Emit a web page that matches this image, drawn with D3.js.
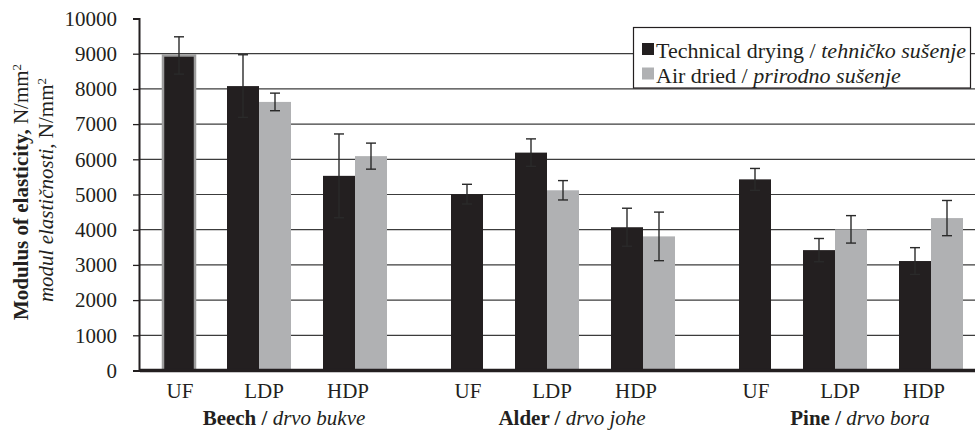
<!DOCTYPE html>
<html>
<head>
<meta charset="utf-8">
<script src="https://cdn.jsdelivr.net/npm/d3@7"></script>
<style>
  html, body { margin: 0; padding: 0; background: #fff; }
  svg { display: block; }
  svg text, svg tspan { font-family: "Liberation Serif", "Times New Roman", "DejaVu Serif", serif; }
</style>
</head>
<body>
<svg id="chart" width="975" height="432"></svg>
<script>
// Wood species (English / Serbian) and adhesive types
const species = ["Beech", "Alder", "Pine"];
const speciesLocal = ["drvo bukve", "drvo johe", "drvo bora"];
const adhesives = ["UF", "LDP", "HDP"];

// Modulus of elasticity, N/mm², in order Beech UF..HDP, Alder UF..HDP, Pine UF..HDP
const technicalDrying = [8950, 8080, 5530, 5010, 6190, 4070, 5430, 3420, 3110];
const technicalDryingErr = [530, 890, 1190, 280, 390, 540, 310, 330, 380];
const airDried = [null, 7630, 6090, null, 5120, 3810, null, 4010, 4330];
const airDriedErr = [null, 250, 370, null, 275, 690, null, 390, 500];

const yTicks = [0, 1000, 2000, 3000, 4000, 5000, 6000, 7000, 8000, 9000, 10000];

const FONT = "Liberation Serif, Times New Roman, DejaVu Serif, serif";
const BLACK = "#231f20";
const GREY = "#b0b1b3";

const svg = d3.select("#chart").attr("font-family", FONT);
const plot = { left: 140, right: 975, top: 18.5, bottom: 370.5 };

// one slot per species/adhesive pair
const keys = [];
species.forEach((s, g) => adhesives.forEach((a, j) => keys.push({ key: s + "-" + a, g, j })));

const x = d3.scaleBand().domain(keys.map(k => k.key)).range([115, 979]).padding(0);
const y = d3.scaleLinear().domain([0, 10000]).range([plot.bottom, plot.top]);
const barW = x.bandwidth() / 3;

// horizontal gridlines
svg.append("g")
  .selectAll("line")
  .data(yTicks.filter(t => t > 0 && t < 10000))
  .join("line")
  .attr("x1", plot.left).attr("x2", plot.right)
  .attr("y1", d => y(d)).attr("y2", d => y(d))
  .attr("stroke", "#3c3c3c").attr("stroke-width", 1.2);

// bar layout: technical drying left of slot centre, air dried right of it;
// where a slot has only one bar it sits in the right half
const bars = [];
keys.forEach((k, i) => {
  const c = x(k.key) + x.bandwidth() / 2;
  const hasAir = airDried[i] != null;
  bars.push({ i, v: technicalDrying[i], e: technicalDryingErr[i], x0: hasAir ? c - barW : c, fill: BLACK, outline: i === 0 });
  if (hasAir) bars.push({ i, v: airDried[i], e: airDriedErr[i], x0: c, fill: GREY, outline: false });
});

svg.append("g")
  .selectAll("rect")
  .data(bars)
  .join("rect")
  .attr("x", d => d.x0)
  .attr("width", barW)
  .attr("y", d => y(d.v))
  .attr("height", d => y(0) - y(d.v))
  .attr("fill", d => d.fill)
  .attr("stroke", d => d.outline ? "#9d9d9d" : "none")
  .attr("stroke-width", d => d.outline ? 2.5 : 0);

// error bars
const ge = svg.append("g").attr("stroke", "#2a2a2a").attr("stroke-width", 1.4);
bars.forEach(d => {
  const cx = d.x0 + barW / 2;
  const top = y(d.v + d.e), bot = y(d.v - d.e);
  ge.append("line").attr("x1", cx).attr("x2", cx).attr("y1", top).attr("y2", bot);
  ge.append("line").attr("x1", cx - 5).attr("x2", cx + 5).attr("y1", top).attr("y2", top);
  ge.append("line").attr("x1", cx - 5).attr("x2", cx + 5).attr("y1", bot).attr("y2", bot);
});

// baseline
svg.append("line")
  .attr("x1", plot.left).attr("x2", plot.right)
  .attr("y1", y(0)).attr("y2", y(0))
  .attr("stroke", BLACK).attr("stroke-width", 3.5);

// y axis
const yAxis = d3.axisLeft(y).tickValues(yTicks).tickSize(6).tickPadding(16).tickFormat(d3.format("d"));
const gy = svg.append("g").attr("transform", `translate(${plot.left - 1},0)`).call(yAxis)
  .attr("font-family", FONT).attr("font-size", 21);
gy.select(".domain").attr("stroke", BLACK).attr("stroke-width", 2);
gy.selectAll(".tick line").attr("stroke", BLACK).attr("stroke-width", 1.3);
gy.selectAll(".tick text").attr("fill", BLACK).attr("font-family", FONT);

// category labels under the bars
const labels = svg.append("g").attr("fill", BLACK).attr("font-size", 21).attr("text-anchor", "middle");
species.forEach((s, g) => {
  const gx = x(s + "-UF");
  const lx = d3.scalePoint().domain(adhesives).range([gx + 65, gx + 233]);
  adhesives.forEach(a => {
    labels.append("text").attr("font-family", FONT).attr("x", lx(a)).attr("y", 398).text(a);
  });
  const t = labels.append("text").attr("font-family", FONT).attr("x", lx("LDP") + 20).attr("y", 425);
  t.append("tspan").attr("font-family", FONT).attr("font-weight", "bold").text(s + " /");
  t.append("tspan").attr("font-family", FONT).attr("font-style", "italic").text(" " + speciesLocal[g]);
});

// y axis title
const yt = svg.append("g").attr("fill", BLACK).attr("font-size", 21).attr("text-anchor", "middle");
const t1 = yt.append("text").attr("font-family", FONT).attr("transform", "translate(28,192) rotate(-90)");
t1.append("tspan").attr("font-family", FONT).attr("font-weight", "bold").text("Modulus of elasticity,");
t1.append("tspan").attr("font-family", FONT).text(" N/mm");
t1.append("tspan").attr("font-family", FONT).attr("dy", -7).attr("font-size", 13).text("2");
const t2 = yt.append("text").attr("font-family", FONT).attr("transform", "translate(53,190) rotate(-90)");
t2.append("tspan").attr("font-family", FONT).attr("font-style", "italic").text("modul elastičnosti,");
t2.append("tspan").attr("font-family", FONT).text(" N/mm");
t2.append("tspan").attr("font-family", FONT).attr("dy", -7).attr("font-size", 13).text("2");

// legend
const lg = svg.append("g");
lg.append("rect").attr("x", 633.5).attr("y", 27.5).attr("width", 337).attr("height", 60.5)
  .attr("fill", "#fff").attr("stroke", BLACK).attr("stroke-width", 1.2);
const legendItems = [
  { fill: BLACK, en: "Technical drying /", sr: "tehničko sušenje" },
  { fill: GREY, en: "Air dried /", sr: "prirodno sušenje" }
];
legendItems.forEach((it, k) => {
  const ly = 58 + k * 24.5;
  lg.append("rect").attr("x", 642).attr("y", ly - 15).attr("width", 12).attr("height", 12).attr("fill", it.fill);
  const t = lg.append("text").attr("font-family", FONT).attr("x", 656).attr("y", ly).attr("fill", BLACK).attr("font-size", 22);
  t.append("tspan").attr("font-family", FONT).text(it.en);
  t.append("tspan").attr("font-family", FONT).attr("font-style", "italic").text(" " + it.sr);
});
</script>
</body>
</html>
